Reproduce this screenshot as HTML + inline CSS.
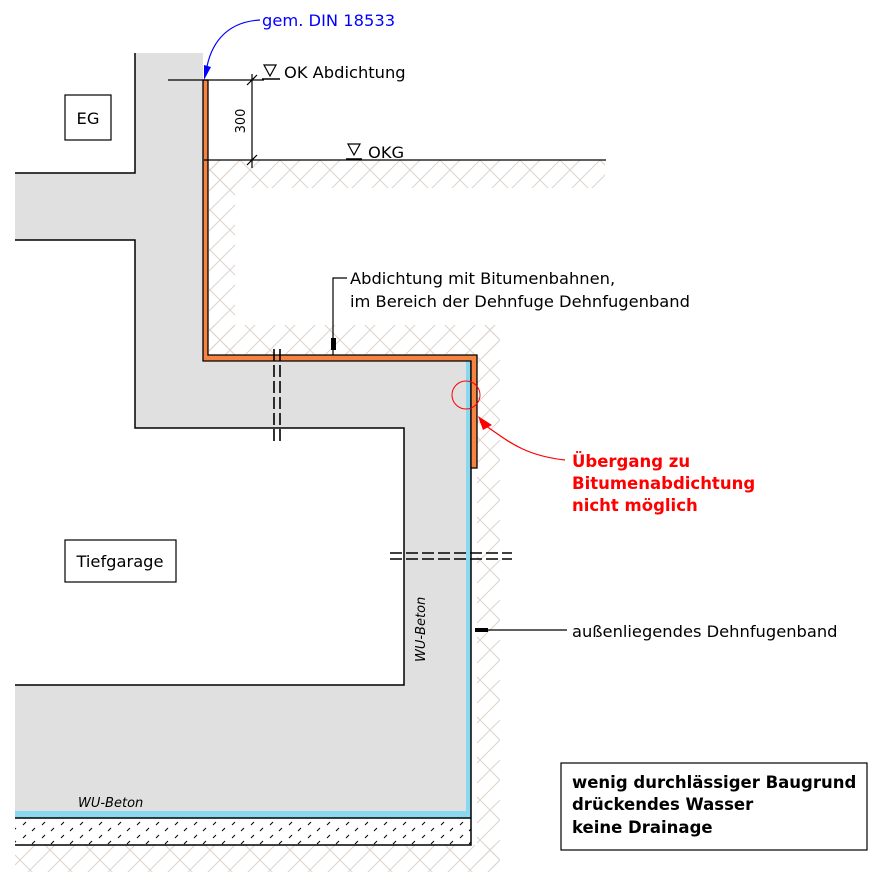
<!DOCTYPE html>
<html><head><meta charset="utf-8"><style>
body{margin:0;background:#fff}
svg{display:block}
text{font-family:"DejaVu Sans","Liberation Sans",sans-serif}
</style></head><body>
<svg width="885" height="890" viewBox="0 0 885 890" xmlns="http://www.w3.org/2000/svg">
<defs>
<pattern id="earth" width="40" height="40" patternUnits="userSpaceOnUse">
<path d="M0 0L40 40M40 0L0 40M20 0L0 20M40 20L20 40" stroke="#ddd3cc" stroke-width="1" fill="none"/>
</pattern>
<pattern id="grav" width="19" height="13" patternUnits="userSpaceOnUse">
<path d="M4 6L7 3M13 12L16 9" stroke="#000" stroke-width="1"/>
</pattern>
</defs>
<rect x="209" y="160" width="396" height="28" fill="url(#earth)"/>
<rect x="209" y="160" width="26" height="195" fill="url(#earth)"/>
<rect x="209" y="325" width="290" height="30" fill="url(#earth)"/>
<rect x="477" y="325" width="23" height="545" fill="url(#earth)"/>
<rect x="15" y="845" width="485" height="27" fill="url(#earth)"/>
<path d="M135 53H203V361H466V813H15V685H404V428H135V240H15V173H135Z" fill="#e0e0e0"/>
<path d="M135 53V173H15M15 240H135V428H404V685H15" fill="none" stroke="#000" stroke-width="1.5"/>
<rect x="466" y="361" width="5" height="457" fill="#8ad8ef"/>
<rect x="15" y="811" width="456" height="7" fill="#8ad8ef"/>
<rect x="15" y="818" width="456" height="27" fill="url(#grav)"/>
<path d="M15 818H471V845H15M471 818V361" fill="none" stroke="#000" stroke-width="1.5"/>
<path d="M203 80V361H471V468H477V355H208V80Z" fill="#f58442" stroke="#000" stroke-width="1.3"/>
<path d="M168 80H264M204 160H606M252 74V168M247 85L257 75M247 165L257 155" stroke="#000" stroke-width="1.2" fill="none"/>
<path d="M264 65H276L270 76Z M348 144H360L354 155Z" fill="none" stroke="#000" stroke-width="1.2"/>
<path d="M262 79H280M346 159H362" stroke="#000" stroke-width="1.5"/>
<text x="284" y="78" font-size="16.3">OK Abdichtung</text>
<text x="368" y="158" font-size="16.3">OKG</text>
<text x="0" y="0" font-size="13" transform="translate(245,121) rotate(-90)" text-anchor="middle">300</text>
<path d="M206 72C210 45 225 22 260 20" fill="none" stroke="#00f" stroke-width="1.2"/>
<path d="M204 80L204 65L211 67Z" fill="#00f"/>
<text x="262" y="26" font-size="16.3" fill="#00f">gem. DIN 18533</text>
<g stroke="#000" stroke-width="1.6" stroke-dasharray="12,4">
<path d="M274 349V443M280 349V443"/>
<path d="M390 553H512M390 559H512"/>
</g>
<path d="M347 278H333V355" stroke="#000" stroke-width="1.2" fill="none"/>
<path d="M331 338H336V350H331Z" fill="#000"/>
<text x="350" y="284" font-size="16.3">Abdichtung mit Bitumenbahnen,</text>
<text x="350" y="307" font-size="16.3">im Bereich der Dehnfuge Dehnfugenband</text>
<path d="M477 630H567" stroke="#000" stroke-width="1.2"/>
<path d="M475 628H488V632H475Z" fill="#000"/>
<text x="572" y="637" font-size="16.3">außenliegendes Dehnfugenband</text>
<circle cx="466" cy="395" r="14" fill="none" stroke="#f00" stroke-width="1"/>
<path d="M480 422C505 438 520 455 565 460" fill="none" stroke="#f00" stroke-width="1.2"/>
<path d="M478 416L492 425L483 430Z" fill="#f00"/>
<g fill="#f00" font-size="16.5" font-weight="bold">
<text x="572" y="467">Übergang zu</text>
<text x="572" y="489">Bitumenabdichtung</text>
<text x="572" y="511">nicht möglich</text>
</g>
<rect x="65" y="95" width="46" height="45" fill="#fff" stroke="#000" stroke-width="1.2"/>
<text x="88" y="124" font-size="16.3" text-anchor="middle">EG</text>
<rect x="65" y="540" width="111" height="42" fill="#fff" stroke="#000" stroke-width="1.2"/>
<text x="120" y="567" font-size="16.3" text-anchor="middle">Tiefgarage</text>
<text x="0" y="0" font-size="13" font-style="italic" transform="translate(425,662) rotate(-90)">WU-Beton</text>
<text x="78" y="807" font-size="13" font-style="italic">WU-Beton</text>
<rect x="561" y="763" width="306" height="87" fill="#fff" stroke="#000" stroke-width="1.2"/>
<g font-size="16.5" font-weight="bold">
<text x="572" y="788">wenig durchlässiger Baugrund</text>
<text x="572" y="810">drückendes Wasser</text>
<text x="572" y="833">keine Drainage</text>
</g>
</svg>
</body></html>
